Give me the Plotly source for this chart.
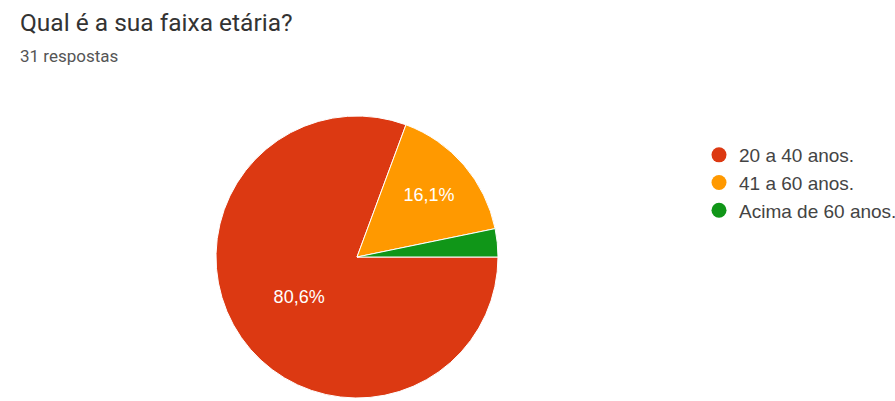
import plotly.graph_objects as go

# Survey: "Qual é a sua faixa etária?" (31 respostas)
categories = ["20 a 40 anos.", "41 a 60 anos.", "Acima de 60 anos."]
counts = [25, 5, 1]
colors = ["#DC3912", "#FF9900", "#109618"]
label_positions = ["inside", "inside", "none"]

W, H = 895, 401

fig = go.Figure()

fig.add_trace(go.Pie(
    labels=categories,
    values=counts,
    sort=False,
    direction="clockwise",
    rotation=90,
    marker=dict(colors=colors, line=dict(color="white", width=1)),
    texttemplate="%{percent:.1%}",
    textposition=label_positions,
    insidetextorientation="horizontal",
    textfont=dict(family="Arial", size=18, color="white"),
    showlegend=False,
    hoverinfo="label+percent",
    domain=dict(x=[216 / W, 498 / W], y=[1 - 398 / H, 1 - 116 / H]),
))

# Circle legend entries
for name, col in zip(categories, colors):
    fig.add_trace(go.Scatter(
        x=[None], y=[None], mode="markers", name=name,
        marker=dict(symbol="circle", size=15, color=col),
        showlegend=True,
    ))

fig.update_layout(
    width=W, height=H,
    margin=dict(l=0, r=0, t=0, b=0, autoexpand=False),
    paper_bgcolor="white",
    plot_bgcolor="white",
    separators=",.",
    xaxis=dict(visible=False),
    yaxis=dict(visible=False),
    legend=dict(
        x=699 / W, y=1 - 136 / H, xanchor="left", yanchor="top",
        font=dict(family="Arial", size=19, color="#444"),
        itemwidth=30, tracegroupgap=0,
        bgcolor="rgba(0,0,0,0)",
    ),
    annotations=[
        dict(text="Qual é a sua faixa etária?", x=18 / W, y=1 - 23 / H,
             xref="paper", yref="paper", xanchor="left", yanchor="middle",
             showarrow=False, font=dict(family="Roboto", size=24.5, color="#333")),
        dict(text="31 respostas", x=18 / W, y=1 - 56 / H,
             xref="paper", yref="paper", xanchor="left", yanchor="middle",
             showarrow=False, font=dict(family="Roboto", size=17, color="#555")),
    ],
)

fig.write_html("out.html")
